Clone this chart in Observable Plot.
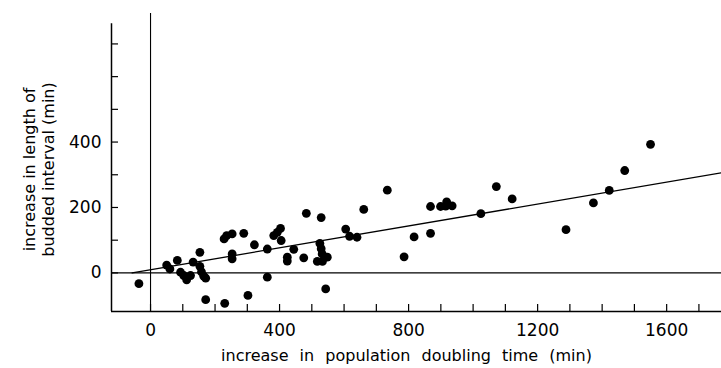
<!DOCTYPE html>
<html><head><meta charset="utf-8">
<script src="https://cdn.jsdelivr.net/npm/d3@7"></script>
<script src="https://cdn.jsdelivr.net/npm/@observablehq/plot@0.6"></script>
<style>body{margin:0;background:#fff} svg{display:block}</style>
</head><body><div id="chart"></div>
<script>
// increase in population doubling time (min)
const pointsX = [-36, 50, 60, 83, 93, 103, 112, 124, 132, 153, 153, 158, 165, 171, 171, 230,
  228, 236, 253, 253, 253, 289, 302, 322, 362, 362, 382, 393, 403, 405, 424, 424, 444, 475,
  483, 529, 525, 529, 532, 517, 533, 548, 543, 605, 617, 640, 661, 734, 786, 817, 868, 868,
  899, 918, 935, 915, 1024, 1072, 1121, 1288, 1373, 1422, 1470, 1550];
// increase in length of budded interval (min)
const pointsY = [-33, 24, 12, 38, 2, -8, -21, -8, 33, 63, 20, 3, -10, -16, -82, -93,
  104, 114, 119, 58, 43, 121, -69, 86, 73, -13, 114, 124, 136, 99, 48, 36, 72, 46,
  182, 169, 90, 74, 58, 35, 35, 48, -49, 134, 112, 109, 194, 253, 49, 110, 121, 203,
  203, 217, 205, 204, 181, 264, 226, 132, 214, 252, 313, 393];
// fitted regression line end points
const fitX = [-57, 1770];
const fitY = [0, 306];

const xTickValues = [0, 100, 200, 300, 400, 500, 600, 700, 800, 900, 1000, 1100, 1200, 1300, 1400, 1500, 1600, 1700];
const xLabelValues = [0, 400, 800, 1200, 1600];
const yTickValues = [0, 100, 200, 300, 400, 500, 600, 700];
const yLabelValues = [0, 200, 400];
const xDomain = [-121, 1770];
const yDomain = [-118, 793];
const yAxisTop = 762;
const xTitle = "increase in population doubling time (min)";
const yTitle = ["increase in length of", "budded interval (min)"];

const points = pointsX.map((x, i) => ({x, y: pointsY[i]}));
const fit = fitX.map((x, i) => ({x, y: fitY[i]}));

const chart = Plot.plot({
  width: 721,
  height: 368,
  marginLeft: 111,
  marginRight: 0,
  marginTop: 13,
  marginBottom: 57,
  style: {fontFamily: "DejaVu Sans", background: "#fff", color: "#000"},
  x: {domain: xDomain},
  y: {domain: yDomain},
  marks: [
    Plot.ruleY([0], {stroke: "#000", strokeWidth: 1.4}),
    Plot.ruleX([0], {stroke: "#000", strokeWidth: 1.1}),
    Plot.ruleY([yDomain[0]], {stroke: "#000", strokeWidth: 1.5}),
    Plot.ruleX([xDomain[0]], {y1: yDomain[0], y2: yAxisTop, stroke: "#000", strokeWidth: 1.5}),
    Plot.axisX(xTickValues, {tickSize: -7, tickFormat: () => "", label: null, strokeWidth: 1.2}),
    Plot.axisX(xLabelValues, {tickSize: 0, tickPadding: 12, fontSize: 17, label: null, tickFormat: d => String(d)}),
    Plot.axisY(yTickValues, {tickSize: -7, tickFormat: () => "", label: null, strokeWidth: 1.2}),
    Plot.axisY(yLabelValues, {tickSize: 0, tickPadding: 10, fontSize: 17, label: null, tickFormat: d => String(d)}),
    Plot.line(fit, {x: "x", y: "y", stroke: "#000", strokeWidth: 1.3}),
    Plot.dot(points, {x: "x", y: "y", r: 4.4, fill: "#000", stroke: null}),
    Plot.text([xTitle], {frameAnchor: "bottom", textAnchor: "middle", dy: 49, dx: -10, fontSize: 16, fill: "#000"}),
    Plot.text([yTitle.join("\n")], {frameAnchor: "left", textAnchor: "middle", lineAnchor: "middle", rotate: -90, dx: -73, dy: 7, fontSize: 16, lineHeight: 1.2, fill: "#000"})
  ]
});
d3.select(chart).selectAll("text").filter(function() { return this.textContent === xTitle; }).style("word-spacing", "6px");
document.getElementById("chart").appendChild(chart);
</script>
</body></html>
